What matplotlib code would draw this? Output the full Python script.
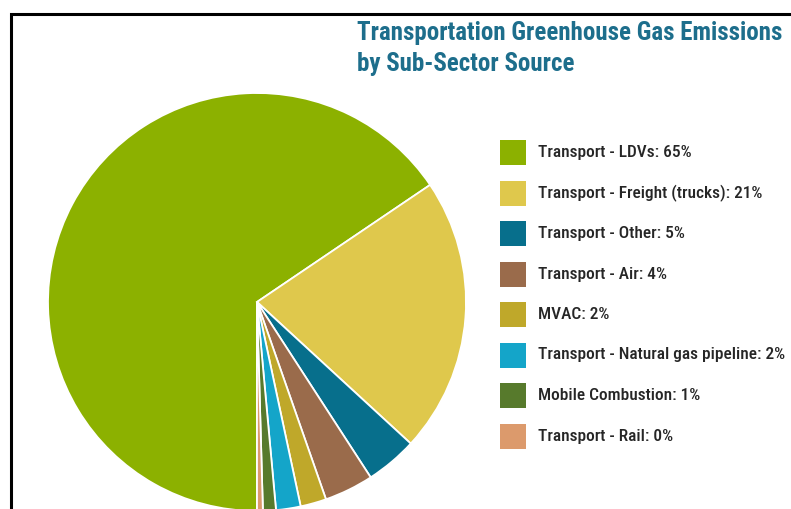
import matplotlib
matplotlib.use("Agg")
import matplotlib.pyplot as plt
from matplotlib.patches import Rectangle
from matplotlib import font_manager

W, H = 791, 509

categories = ["Transport - LDVs", "Transport - Freight (trucks)", "Transport - Other",
              "Transport - Air", "MVAC", "Transport - Natural gas pipeline",
              "Mobile Combustion", "Transport - Rail"]
legend_pct = [65, 21, 5, 4, 2, 2, 1, 0]
shares = [65.5, 21.3, 4.0, 3.8, 2.0, 1.9, 1.0, 0.45]
colors = ["#8cb100", "#dfc84c", "#076f8c", "#9a6b4b", "#bfa82a", "#14a5c9",
          "#577a2c", "#dc9a6c"]

title_lines = ["Transportation Greenhouse Gas Emissions", "by Sub-Sector Source"]

# pick a condensed family if one exists
fams = {}
for f in font_manager.fontManager.ttflist:
    fams.setdefault(f.name, []).append(f)

family = None
stretch = "normal"
for cand in ["Liberation Sans Narrow", "Roboto Condensed", "Open Sans Condensed",
             "DejaVu Sans Condensed", "Noto Sans Condensed"]:
    if cand in fams:
        family = cand
        break
if family is None:
    dj = fams.get("DejaVu Sans", [])
    if any(str(f.stretch) in ("condensed", "semi-condensed") or
           (isinstance(f.stretch, int) and f.stretch < 500) for f in dj):
        family = "DejaVu Sans"
        stretch = "condensed"
if family is None:
    family = "Roboto" if "Roboto" in fams else "Liberation Sans"

fig = plt.figure(figsize=(W / 100, H / 100), dpi=100)
ax = fig.add_axes([0, 0, 1, 1])

ax.pie(shares, colors=colors, startangle=-90, counterclock=False,
       center=(257, H - 302), radius=209,
       wedgeprops=dict(edgecolor="white", linewidth=1.3))

ax.set_xlim(0, W)
ax.set_ylim(0, H)
ax.set_aspect("equal", adjustable="box")
ax.axis("off")

# frame
ax.plot([10.5, 10.5, W + 5], [-5, H - 13.5, H - 13.5], color="black", lw=2.2,
        solid_joinstyle="miter", clip_on=False)

renderer = fig.canvas.get_renderer()


def fit_size(text, target_px, weight, start):
    t = ax.text(0, 0, text, fontsize=start, fontweight=weight,
                fontfamily=[family, "DejaVu Sans"], fontstretch=stretch)
    w = t.get_window_extent(renderer).width
    t.remove()
    return start * target_px / w


title_fs = min(18.0, fit_size(title_lines[0], 426, "bold", 15))
leg_fs = min(12.8, fit_size("Transport - Natural gas pipeline: 2%", 248, "medium", 12))

# title
for k, yy in enumerate([33, 64]):
    ax.text(357, H - yy, title_lines[k], fontsize=title_fs, fontweight="bold",
            color="#1d6e8c", fontfamily=[family, "DejaVu Sans"], fontstretch=stretch,
            va="center", ha="left")

# legend
y0 = 152.5
dy = 40.5
for i, (cat, pct, c) in enumerate(zip(categories, legend_pct, colors)):
    yc = H - (y0 + i * dy)
    ax.add_patch(Rectangle((500, yc - 12.5), 26, 25, facecolor=c, edgecolor="none"))
    ax.text(538, yc, f"{cat}: {pct}%", fontsize=leg_fs, color="#262626",
            fontfamily=[family, "DejaVu Sans"], fontstretch=stretch,
            fontweight="medium", va="center", ha="left")

fig.savefig("out.png", dpi=100)
